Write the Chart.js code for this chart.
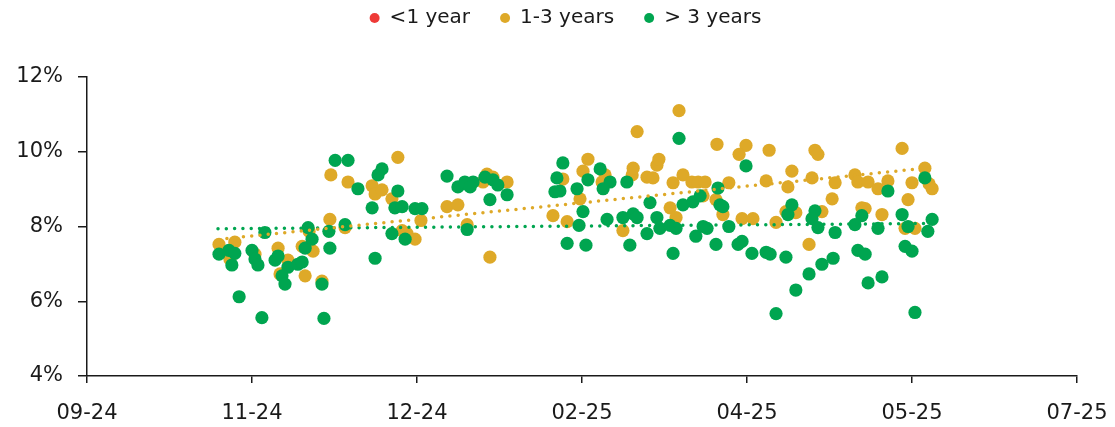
<!DOCTYPE html>
<html>
<head>
<meta charset="utf-8">
<style>
  html, body { margin: 0; padding: 0; background: #fff; }
  #chart { display: block; }
</style>
<script src="https://cdn.jsdelivr.net/npm/chart.js@4.4.1/dist/chart.umd.min.js"></script>
</head>
<body>
<canvas id="chart" width="1115" height="427"></canvas>
<script>
// x = days since the first axis tick (09-24), one tick every 50 days
const xTickLabels = ['09-24', '11-24', '12-24', '02-25', '04-25', '05-25', '07-25'];
const yTicks = [4, 6, 8, 10, 12];

const seriesNames = ['<1 year', '1-3 years', '> 3 years'];

// <1 year: no visible points
const shortDays = [];
const shortRates = [];

// 1-3 years
const midDays = [
  40.0, 44.8, 43.3, 50.9, 57.9, 60.9, 58.5, 66.1, 65.2, 68.5,
  67.3, 73.6, 71.2, 73.9, 79.1, 86.4, 87.3, 89.4, 94.2, 92.4,
  78.2, 95.5, 97.0, 99.4, 101.2, 109.1, 112.4, 120.0, 121.2, 123.0,
  127.3, 115.2, 122.1, 144.2, 141.2, 145.5, 149.4, 150.3, 151.8, 157.0,
  156.1, 165.2, 165.5, 166.7, 169.7, 171.5, 172.7, 173.3, 176.7, 177.6,
  180.6, 183.3, 185.2, 187.3, 179.4, 190.9, 186.7, 190.6, 162.4, 178.5,
  199.7, 197.6, 206.7, 220.6, 221.5, 213.6, 194.5, 205.8, 212.4, 219.7,
  226.7, 225.8, 192.7, 198.5, 201.8, 208.8, 211.8, 214.8, 222.7, 218.8,
  247.0, 232.7, 233.6, 236.7, 239.7, 242.7, 250.0, 253.9, 255.2, 256.1,
  248.8, 234.8, 235.8, 240.9, 247.9, 250.9
];
const midRates = [
  7.52, 7.58, 7.13, 7.26, 7.42, 7.10, 6.73, 6.68, 7.47, 7.34,
  7.87, 8.19, 6.54, 9.38, 9.19, 9.09, 8.87, 8.98, 9.85, 8.74,
  7.97, 7.89, 7.81, 7.66, 8.16, 8.53, 8.58, 9.19, 9.40, 9.32,
  9.19, 8.05, 7.18, 9.27, 8.29, 8.13, 8.74, 9.48, 9.80, 9.38,
  9.19, 9.38, 9.56, 10.54, 9.32, 9.30, 9.64, 9.80, 8.50, 9.17,
  9.38, 9.19, 9.19, 9.19, 11.10, 10.20, 8.82, 8.72, 7.89, 8.24,
  10.17, 9.93, 10.04, 10.04, 9.93, 9.48, 9.17, 9.22, 9.06, 9.30,
  9.17, 8.74, 8.32, 8.21, 8.21, 8.11, 8.40, 8.37, 8.40, 7.52,
  10.09, 9.38, 9.19, 9.19, 9.01, 9.22, 9.17, 9.56, 9.14, 9.01,
  8.72, 8.50, 8.48, 8.32, 7.95, 7.95
];

// > 3 years
const longDays = [
  40.0, 43.0, 44.8, 43.9, 46.1, 53.0, 50.0, 50.9, 51.8, 53.9,
  57.9, 57.0, 60.9, 59.1, 60.0, 63.9, 65.2, 66.1, 68.2, 67.0,
  73.3, 73.6, 71.2, 71.8, 75.2, 79.1, 82.1, 88.2, 89.4, 94.2,
  93.3, 95.5, 86.4, 78.2, 87.3, 92.4, 96.4, 99.4, 101.5, 109.1,
  112.4, 114.5, 117.0, 116.1, 120.6, 123.0, 124.5, 127.3, 122.1, 115.2,
  144.2, 142.4, 141.8, 143.3, 145.5, 149.1, 148.5, 151.8, 150.3, 151.2,
  155.5, 158.5, 156.4, 163.6, 170.6, 179.4, 180.6, 183.6, 185.8, 191.2,
  157.6, 162.4, 165.5, 166.7, 164.5, 169.7, 172.7, 173.6, 176.7, 178.5,
  177.6, 184.5, 186.7, 187.9, 190.6, 191.8, 199.7, 192.7, 213.6, 212.4,
  220.6, 219.7, 221.5, 226.7, 194.5, 197.3, 198.5, 201.5, 205.8, 207.0,
  211.8, 222.7, 226.1, 218.8, 214.8, 208.8, 242.7, 253.9, 234.8, 232.7,
  239.7, 247.0, 248.8, 256.1, 254.8, 233.6, 235.8, 247.9, 250.0, 236.7,
  240.9, 250.9
];
const longRates = [
  7.26, 7.36, 7.28, 6.97, 6.12, 5.56, 7.36, 7.13, 6.97, 7.84,
  7.21, 7.10, 6.91, 6.68, 6.46, 6.99, 7.05, 7.42, 7.66, 7.97,
  7.87, 7.42, 6.46, 5.54, 9.77, 9.77, 9.01, 9.38, 9.54, 8.95,
  8.50, 8.53, 8.50, 8.05, 7.15, 7.81, 7.66, 8.48, 8.48, 9.35,
  9.06, 9.19, 9.19, 9.06, 9.32, 9.25, 9.11, 8.85, 8.72, 7.92,
  9.70, 9.30, 8.93, 8.95, 7.55, 8.03, 9.01, 9.25, 8.40, 7.50,
  9.54, 9.19, 9.01, 9.19, 8.64, 10.36, 8.58, 8.66, 8.82, 9.03,
  8.19, 8.24, 8.34, 8.24, 7.50, 7.81, 8.24, 7.95, 8.03, 7.95,
  7.28, 7.74, 8.00, 7.95, 7.52, 8.58, 9.62, 8.53, 8.58, 8.32,
  8.42, 8.21, 7.97, 7.84, 8.00, 7.52, 7.60, 7.28, 7.31, 7.26,
  7.18, 6.99, 7.15, 6.73, 6.30, 5.67, 8.95, 9.30, 8.29, 8.05,
  7.95, 8.32, 8.00, 8.19, 7.87, 7.36, 7.26, 7.47, 7.34, 6.49,
  6.65, 5.70
];

// dotted trendlines, end points
const midTrendDays = [42.4, 251.8];
const midTrendRates = [7.68, 9.54];
const longTrendDays = [39.7, 254.8];
const longTrendRates = [7.94, 8.08];

const RED = '#ee3a37';
const GOLD = '#dea928';
const GREEN = '#00a550';
const INK = '#1a1a1a';
const FONT = 'DejaVu Sans';

function toPoints(xs, ys) {
  return xs.map(function (x, i) { return { x: x, y: ys[i] }; });
}

function scatterSet(label, xs, ys, color, order) {
  return {
    label: label,
    data: toPoints(xs, ys),
    backgroundColor: color,
    borderColor: color,
    borderWidth: 0,
    pointRadius: 6.6,
    pointHoverRadius: 6.6,
    pointStyle: 'circle',
    order: order
  };
}

function trendSet(xs, ys, color) {
  return {
    type: 'line',
    label: 'trend',
    data: toPoints(xs, ys),
    borderColor: color,
    borderWidth: 3.5,
    borderDash: [0, 8.3],
    borderCapStyle: 'round',
    pointRadius: 0,
    fill: false,
    order: 0
  };
}

// nudge the legend row to sit where the original puts it
const legendNudge = {
  id: 'legendNudge',
  afterLayout: function (chart) {
    const lg = chart.legend;
    if (!lg) return;
    lg.top -= 39; lg.bottom -= 39;
    lg.left += 27; lg.right += 27;
  }
};

new Chart(document.getElementById('chart'), {
  type: 'scatter',
  data: {
    datasets: [
      scatterSet(seriesNames[0], shortDays, shortRates, RED, 3),
      scatterSet(seriesNames[1], midDays, midRates, GOLD, 2),
      scatterSet(seriesNames[2], longDays, longRates, GREEN, 1),
      trendSet(midTrendDays, midTrendRates, GOLD),
      trendSet(longTrendDays, longTrendRates, GREEN)
    ]
  },
  options: {
    responsive: false,
    animation: false,
    layout: { padding: { top: 17, right: 38, bottom: 0, left: 0 } },
    plugins: {
      tooltip: { enabled: false },
      legend: {
        position: 'top',
        labels: {
          usePointStyle: true,
          pointStyle: 'circle',
          boxHeight: 7,
          pointStyleWidth: 10,
          padding: 30,
          color: INK,
          font: { family: FONT, size: 20 },
          filter: function (item) { return item.datasetIndex < 3; },
          sort: function (a, b) { return a.datasetIndex - b.datasetIndex; }
        }
      }
    },
    scales: {
      x: {
        type: 'linear',
        min: 0,
        max: 300,
        afterFit: function (s) {
          s.height = 51;
          s.paddingLeft = 0;
          s.paddingRight = 0;
        },
        afterBuildTicks: function (s) {
          s.ticks = xTickLabels.map(function (_, i) { return { value: i * 50 }; });
        },
        ticks: {
          color: INK,
          padding: 18,
          maxRotation: 0,
          font: { family: FONT, size: 21 },
          callback: function (v) { return xTickLabels[Math.round(v / 50)]; }
        },
        grid: { drawOnChartArea: false, drawTicks: true, tickLength: 7, color: INK, lineWidth: 1.5 },
        border: { display: true, color: INK, width: 1.5 }
      },
      y: {
        min: yTicks[0],
        max: yTicks[yTicks.length - 1],
        afterFit: function (s) { s.width = 87; },
        afterBuildTicks: function (s) {
          s.ticks = yTicks.map(function (v) { return { value: v }; });
        },
        ticks: {
          color: INK,
          padding: 15,
          font: { family: FONT, size: 21 },
          callback: function (v) { return v + '%'; }
        },
        grid: { drawOnChartArea: false, drawTicks: true, tickLength: 9, color: INK, lineWidth: 1.5 },
        border: { display: true, color: INK, width: 1.5 }
      }
    }
  },
  plugins: [legendNudge]
});
</script>
</body>
</html>
